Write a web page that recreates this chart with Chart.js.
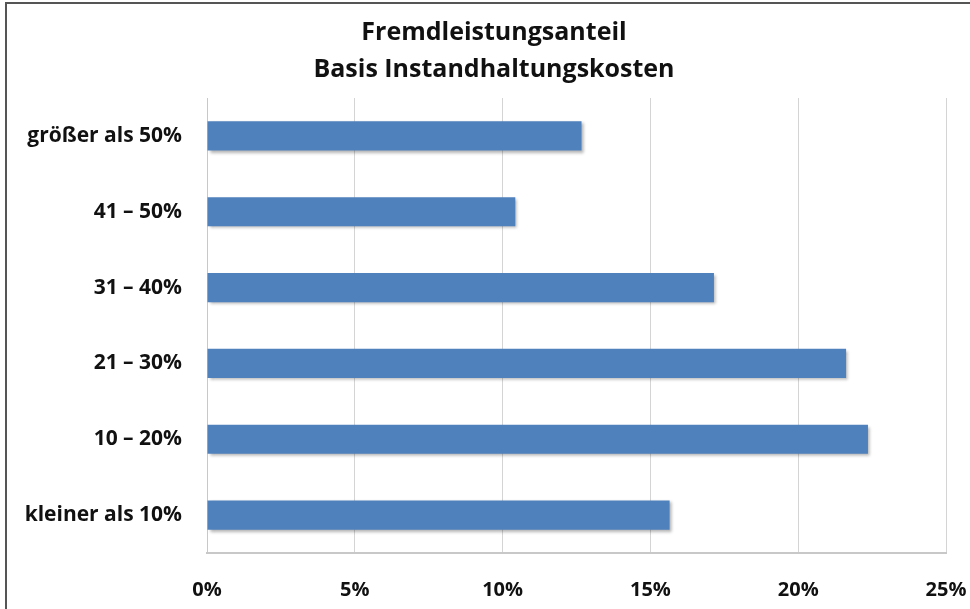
<!DOCTYPE html>
<html>
<head>
<meta charset="utf-8">
<script src="https://cdn.jsdelivr.net/npm/chart.js@4"></script>
<style>
    html, body { margin: 0; padding: 0; background: #fff; }
    #wrap {
        position: relative;
        box-sizing: border-box;
        border-left: 2px solid #555;
        border-top: 2px solid #555;
        margin-left: 5px;
        margin-top: 2px;
        width: 965px;
        height: 607px;
    }
</style>
</head>
<body>
<div id="wrap"><canvas id="fremdChart"></canvas></div>
<script>
// Chart data
const categories = ['größer als 50%', '41 – 50%', '31 – 40%', '21 – 30%', '10 – 20%', 'kleiner als 10%'];
const shares = [12.67, 10.43, 17.15, 21.62, 22.36, 15.65];
const tickValues = [0, 5, 10, 15, 20, 25];
const titleLines = ['Fremdleistungsanteil', 'Basis Instandhaltungskosten'];

const FONT = '"Open Sans", Lato, sans-serif';

// soft drop shadow under the bars, like the office chart
const barShadow = {
    id: 'barShadow',
    beforeDatasetsDraw(chart) {
        const c = chart.ctx;
        c.save();
        c.shadowColor = 'rgba(0,0,0,0.30)';
        c.shadowBlur = 3;
        c.shadowOffsetX = 2;
        c.shadowOffsetY = 2;
    },
    afterDatasetsDraw(chart) {
        chart.ctx.restore();
    }
};

const ctx = document.getElementById('fremdChart').getContext('2d');

new Chart(ctx, {
    type: 'bar',
    data: {
        labels: categories,
        datasets: [{
            data: shares,
            backgroundColor: '#4f81bd',
            borderWidth: 0,
            barPercentage: 0.77,
            categoryPercentage: 0.5
        }]
    },
    options: {
        indexAxis: 'y',
        responsive: true,
        maintainAspectRatio: false,
        animation: false,
        layout: {
            padding: { left: 11, right: 0, top: 0, bottom: 10 }
        },
        plugins: {
            legend: { display: false },
            tooltip: { enabled: false },
            title: {
                display: true,
                text: titleLines,
                color: '#111',
                font: { family: FONT, size: 25, weight: 'bold', lineHeight: 1.46 },
                padding: { top: 11, bottom: 10 }
            }
        },
        scales: {
            x: {
                min: 0,
                max: 25,
                afterBuildTicks(scale) {
                    scale.ticks = tickValues.map(v => ({ value: v }));
                },
                afterFit(scale) {
                    // keep the plot edges where the original has them
                    scale.paddingLeft = 0;
                    scale.paddingRight = 24;
                    scale.height = 46;
                },
                ticks: {
                    color: '#111',
                    padding: 25,
                    font: { family: FONT, size: 20, weight: 'bold' },
                    callback: v => v + '%'
                },
                grid: { color: '#d4d4d4', lineWidth: 1, drawTicks: false },
                border: { display: true, color: '#c8c8c8', width: 2 }
            },
            y: {
                afterFit(scale) { scale.width = 189; },
                ticks: {
                    color: '#111',
                    padding: 25,
                    font: { family: FONT, size: 21, weight: 'bold' }
                },
                grid: { display: false, drawTicks: false },
                border: { display: true, color: '#c8c8c8', width: 1 }
            }
        }
    },
    plugins: [barShadow]
});
</script>
</body>
</html>
